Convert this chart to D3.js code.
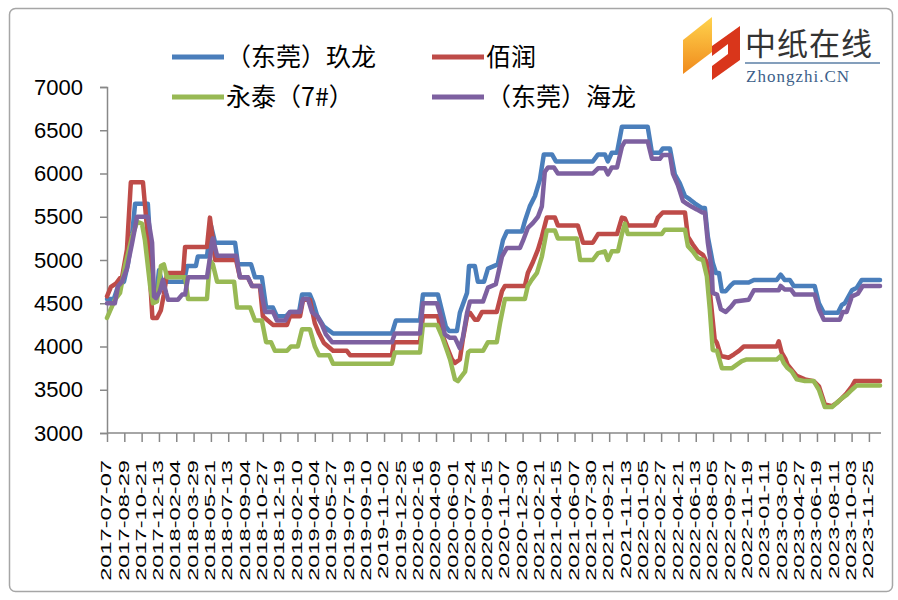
<!DOCTYPE html>
<html>
<head>
<meta charset="utf-8">
<script src="https://cdn.jsdelivr.net/npm/d3@7"></script>
<style>
  body { margin: 0; background: #fff; }
  svg { display: block; }
</style>
</head>
<body>
<div id="chart"></div>
<script>
// tick labels on the date axis (every 53 days)
const tickDates = ["2017-07-07","2017-08-29","2017-10-21","2017-12-13","2018-02-04","2018-03-29","2018-05-21","2018-07-13","2018-09-04","2018-10-27","2018-12-19","2019-02-10","2019-04-04","2019-05-27","2019-07-19","2019-09-10","2019-11-02","2019-12-25","2020-02-16","2020-04-09","2020-06-01","2020-07-24","2020-09-15","2020-11-07","2020-12-30","2021-02-21","2021-04-15","2021-06-07","2021-07-30","2021-09-21","2021-11-13","2022-01-05","2022-02-27","2022-04-21","2022-06-13","2022-08-05","2022-09-27","2022-11-19","2023-01-11","2023-03-05","2023-04-27","2023-06-19","2023-08-11","2023-10-03","2023-11-25"];
const yTicks = [3000, 3500, 4000, 4500, 5000, 5500, 6000, 6500, 7000];

// （东莞）玖龙
const jiulong = [["2017-07-07",4550],["2017-07-28",4550],["2017-08-10",4700],["2017-08-28",4750],["2017-09-09",4950],["2017-09-22",5300],["2017-10-01",5650],["2017-11-09",5650],["2017-11-25",4650],["2017-12-04",4550],["2017-12-13",4880],["2017-12-22",4750],["2018-02-28",4750],["2018-03-09",4930],["2018-04-05",4930],["2018-04-11",5040],["2018-05-09",5040],["2018-05-21",5400],["2018-06-03",5200],["2018-08-03",5200],["2018-08-12",4950],["2018-09-21",4950],["2018-10-03",4800],["2018-10-24",4800],["2018-11-06",4450],["2018-11-27",4450],["2018-12-09",4350],["2019-01-06",4350],["2019-01-18",4400],["2019-02-15",4400],["2019-02-24",4600],["2019-03-20",4600],["2019-03-29",4520],["2019-04-11",4360],["2019-05-02",4230],["2019-05-30",4150],["2019-11-26",4150],["2019-12-08",4300],["2020-02-20",4300],["2020-02-29",4600],["2020-04-15",4600],["2020-05-09",4230],["2020-05-19",4180],["2020-06-12",4180],["2020-06-21",4390],["2020-07-13",4620],["2020-07-19",4930],["2020-08-06",4930],["2020-08-15",4750],["2020-09-03",4750],["2020-09-15",4900],["2020-10-15",4950],["2020-10-31",5230],["2020-11-12",5330],["2020-12-28",5330],["2021-01-06",5450],["2021-01-21",5620],["2021-02-06",5740],["2021-02-21",5930],["2021-03-05",6220],["2021-03-30",6220],["2021-04-11",6140],["2021-08-02",6140],["2021-08-18",6220],["2021-09-08",6220],["2021-09-17",6140],["2021-09-29",6240],["2021-10-15",6240],["2021-10-30",6540],["2022-01-17",6540],["2022-01-30",6240],["2022-02-23",6240],["2022-03-04",6290],["2022-03-26",6290],["2022-04-10",5990],["2022-04-25",5890],["2022-05-11",5740],["2022-05-26",5700],["2022-06-10",5655],["2022-07-02",5600],["2022-07-11",5600],["2022-07-20",5270],["2022-08-04",4970],["2022-08-14",4850],["2022-08-23",4850],["2022-09-01",4640],["2022-09-13",4640],["2022-09-29",4710],["2022-10-08",4740],["2022-11-22",4740],["2022-12-08",4770],["2023-02-16",4770],["2023-02-28",4830],["2023-03-12",4770],["2023-03-28",4770],["2023-04-09",4700],["2023-06-12",4700],["2023-06-25",4500],["2023-07-10",4390],["2023-08-22",4390],["2023-09-03",4480],["2023-09-12",4500],["2023-10-04",4650],["2023-10-19",4680],["2023-11-03",4770],["2023-12-29",4770]];

// 佰润
const bairun = [["2017-07-07",4580],["2017-07-19",4690],["2017-08-04",4730],["2017-08-16",4790],["2017-08-22",4800],["2017-09-06",5120],["2017-09-18",5900],["2017-10-25",5900],["2017-11-06",5390],["2017-11-16",4770],["2017-11-23",4330],["2017-12-07",4330],["2017-12-19",4420],["2017-12-28",4600],["2018-01-07",4850],["2018-02-25",4850],["2018-03-03",5150],["2018-05-09",5150],["2018-05-18",5490],["2018-05-27",5230],["2018-06-03",5000],["2018-08-06",5000],["2018-08-18",4800],["2018-09-11",4800],["2018-09-24",4700],["2018-10-18",4700],["2018-10-27",4350],["2018-11-27",4250],["2019-01-09",4250],["2019-01-18",4350],["2019-02-18",4350],["2019-02-27",4540],["2019-03-20",4540],["2019-04-04",4270],["2019-04-17",4150],["2019-05-02",4040],["2019-05-30",3950],["2019-07-11",3950],["2019-07-21",3900],["2019-11-26",3900],["2019-12-02",4050],["2020-02-20",4050],["2020-02-29",4350],["2020-04-15",4350],["2020-04-27",4150],["2020-05-12",4000],["2020-05-28",3850],["2020-06-06",3810],["2020-06-21",3850],["2020-06-30",4080],["2020-07-13",4350],["2020-07-22",4390],["2020-08-06",4310],["2020-08-15",4310],["2020-08-28",4400],["2020-10-12",4400],["2020-10-28",4640],["2020-11-06",4700],["2021-01-06",4700],["2021-01-15",4850],["2021-01-31",4980],["2021-02-15",5120],["2021-02-27",5270],["2021-03-14",5490],["2021-04-08",5490],["2021-04-17",5400],["2021-06-17",5400],["2021-07-03",5200],["2021-08-02",5200],["2021-08-18",5300],["2021-10-15",5300],["2021-10-30",5490],["2021-11-08",5480],["2021-11-17",5400],["2022-02-08",5400],["2022-02-17",5490],["2022-03-04",5550],["2022-05-11",5550],["2022-05-20",5270],["2022-06-04",5180],["2022-06-19",5100],["2022-07-05",5060],["2022-07-17",4970],["2022-08-10",4080],["2022-08-17",4040],["2022-08-29",3890],["2022-09-22",3870],["2022-10-08",3910],["2022-10-23",3950],["2022-11-07",4000],["2023-02-16",4000],["2023-02-22",4060],["2023-03-03",3930],["2023-03-15",3850],["2023-03-21",3790],["2023-04-03",3730],["2023-04-18",3660],["2023-05-13",3620],["2023-06-09",3600],["2023-06-25",3540],["2023-07-13",3330],["2023-08-04",3310],["2023-08-19",3350],["2023-09-03",3400],["2023-09-18",3460],["2023-10-04",3540],["2023-10-13",3600],["2023-12-29",3600]];

// 永泰（7#）
const yongtai = [["2017-07-07",4330],["2017-07-22",4460],["2017-07-31",4540],["2017-08-16",4620],["2017-08-31",4930],["2017-09-22",5270],["2017-10-07",5440],["2017-10-22",5420],["2017-10-31",5230],["2017-11-16",4700],["2017-11-25",4500],["2017-12-07",4520],["2017-12-19",4930],["2017-12-28",4950],["2018-01-07",4800],["2018-03-03",4800],["2018-03-12",4550],["2018-05-09",4550],["2018-05-18",5000],["2018-05-27",4950],["2018-06-09",4750],["2018-07-31",4750],["2018-08-09",4450],["2018-09-18",4450],["2018-10-03",4300],["2018-10-24",4300],["2018-11-06",4050],["2018-11-21",4050],["2018-12-03",3950],["2019-01-09",3950],["2019-01-21",4000],["2019-02-11",4000],["2019-02-24",4200],["2019-03-20",4200],["2019-04-04",4000],["2019-04-17",3900],["2019-05-18",3900],["2019-05-30",3800],["2019-11-26",3800],["2019-12-05",3930],["2020-02-20",3930],["2020-02-29",4250],["2020-04-12",4250],["2020-04-27",4120],["2020-05-12",3960],["2020-05-22",3850],["2020-06-06",3620],["2020-06-15",3600],["2020-06-27",3660],["2020-07-07",3710],["2020-07-16",3930],["2020-07-22",3950],["2020-08-31",3950],["2020-09-15",4050],["2020-10-12",4050],["2020-10-22",4270],["2020-11-06",4550],["2021-01-06",4550],["2021-01-15",4700],["2021-01-27",4770],["2021-02-12",4850],["2021-02-27",5040],["2021-03-14",5340],["2021-04-08",5340],["2021-04-17",5250],["2021-06-14",5250],["2021-06-24",5000],["2021-08-02",5000],["2021-08-18",5080],["2021-09-08",5100],["2021-09-17",5000],["2021-09-29",5100],["2021-10-18",5100],["2021-10-30",5300],["2021-11-08",5420],["2021-11-17",5300],["2022-03-01",5300],["2022-03-10",5350],["2022-05-11",5350],["2022-05-20",5160],["2022-06-04",5100],["2022-06-19",5020],["2022-07-05",5000],["2022-07-17",4810],["2022-07-26",4430],["2022-08-04",3960],["2022-08-17",3950],["2022-09-01",3750],["2022-10-02",3750],["2022-10-17",3790],["2022-11-01",3830],["2022-11-16",3850],["2023-02-16",3850],["2023-02-28",3890],["2023-03-09",3810],["2023-03-21",3750],["2023-04-03",3710],["2023-04-18",3620],["2023-05-13",3600],["2023-06-09",3600],["2023-06-25",3500],["2023-07-13",3300],["2023-08-04",3300],["2023-08-19",3350],["2023-09-03",3400],["2023-09-18",3440],["2023-10-04",3500],["2023-10-19",3550],["2023-12-29",3550]];

// （东莞）海龙
const hailong = [["2017-07-07",4500],["2017-07-31",4500],["2017-08-10",4700],["2017-08-22",4750],["2017-09-06",4900],["2017-09-22",5200],["2017-10-07",5500],["2017-11-09",5500],["2017-11-22",5200],["2017-11-28",4580],["2017-12-04",4560],["2017-12-16",4640],["2017-12-25",4770],["2018-01-04",4620],["2018-01-10",4540],["2018-02-09",4540],["2018-02-22",4600],["2018-03-03",4600],["2018-03-12",4800],["2018-05-09",4800],["2018-05-27",5250],["2018-06-09",5050],["2018-08-06",5050],["2018-08-18",4800],["2018-09-11",4800],["2018-09-24",4700],["2018-10-18",4700],["2018-11-03",4400],["2018-11-27",4400],["2018-12-09",4300],["2019-01-03",4300],["2019-01-18",4400],["2019-02-18",4400],["2019-02-27",4550],["2019-03-14",4550],["2019-03-26",4400],["2019-04-11",4350],["2019-04-26",4250],["2019-05-08",4140],["2019-05-27",4050],["2019-11-26",4050],["2019-12-05",4150],["2020-02-20",4150],["2020-02-29",4500],["2020-04-12",4500],["2020-04-27",4310],["2020-05-06",4140],["2020-05-22",4100],["2020-06-06",4100],["2020-06-21",3980],["2020-06-30",4100],["2020-07-13",4390],["2020-07-22",4520],["2020-08-31",4520],["2020-09-15",4680],["2020-10-09",4720],["2020-10-28",5040],["2020-11-12",5140],["2020-12-22",5140],["2020-12-31",5220],["2021-01-15",5370],["2021-01-31",5430],["2021-02-15",5500],["2021-02-27",5620],["2021-03-08",6020],["2021-03-18",6070],["2021-04-05",6070],["2021-04-17",6000],["2021-08-02",6000],["2021-08-18",6060],["2021-09-08",6060],["2021-09-17",5990],["2021-09-29",6070],["2021-10-15",6070],["2021-10-30",6310],["2021-11-08",6370],["2022-01-17",6370],["2022-01-30",6170],["2022-02-23",6170],["2022-03-04",6215],["2022-03-26",6215],["2022-04-04",6000],["2022-04-19",5870],["2022-05-05",5680],["2022-05-17",5650],["2022-06-01",5615],["2022-06-16",5585],["2022-07-02",5550],["2022-07-11",5550],["2022-07-20",5200],["2022-08-01",4890],["2022-08-04",4620],["2022-08-17",4600],["2022-08-29",4430],["2022-09-13",4400],["2022-09-29",4460],["2022-10-11",4520],["2022-11-22",4540],["2022-12-08",4650],["2023-02-22",4650],["2023-02-28",4700],["2023-03-12",4660],["2023-03-31",4660],["2023-04-12",4600],["2023-06-12",4600],["2023-06-25",4430],["2023-07-10",4310],["2023-08-28",4310],["2023-09-06",4400],["2023-09-18",4400],["2023-10-04",4580],["2023-10-22",4610],["2023-11-06",4700],["2023-12-29",4700]];

const seriesNames = ["（东莞）玖龙", "佰润", "永泰（7#）", "（东莞）海龙"];
const seriesColors = ["#4a7ebb", "#be4b48", "#98b954", "#7d60a0"];
const seriesData = [jiulong, bairun, yongtai, hailong];

const W = 898, H = 600;
const parse = d3.timeParse("%Y-%m-%d");

const svg = d3.select("#chart").append("svg")
  .attr("width", W).attr("height", H);

svg.append("rect").attr("width", W).attr("height", H).attr("fill", "#fff");

// outer frame
svg.append("rect")
  .attr("x", 9.5).attr("y", 8.5).attr("width", 883).attr("height", 583)
  .attr("rx", 6).attr("fill", "none").attr("stroke", "#a6a6a6").attr("stroke-width", 1.5);

// scales
const x = d3.scaleTime()
  .domain([parse("2017-07-07"), parse("2024-01-01")])
  .range([107, 881]);
const y = d3.scaleLinear().domain([3000, 7000]).range([433, 87]);

// Y axis
const yAxis = svg.append("g")
  .attr("transform", "translate(107,0)")
  .call(d3.axisLeft(y).tickValues(yTicks).tickFormat(d3.format("d")).tickSize(7).tickPadding(17));
yAxis.select(".domain").attr("stroke", "#888").attr("stroke-width", 1.5);
yAxis.selectAll(".tick line").attr("stroke", "#888").attr("stroke-width", 1.5);
yAxis.selectAll(".tick text")
  .attr("font-family", "'Liberation Sans', Arial, sans-serif")
  .attr("font-size", 22).attr("fill", "#000");

// X axis
const xAxis = svg.append("g")
  .attr("transform", "translate(0,433)")
  .call(d3.axisBottom(x).tickValues(tickDates.map(parse)).tickSize(9).tickFormat(""));
xAxis.select(".domain").attr("stroke", "#888").attr("stroke-width", 1.5)
  .attr("d", "M107,0H881");
xAxis.selectAll(".tick line").attr("stroke", "#888").attr("stroke-width", 1.5);

svg.append("g").selectAll("text")
  .data(tickDates)
  .enter().append("text")
  .attr("transform", d => "translate(" + (x(parse(d)) - 1) + ",460) rotate(-90) scale(1.63,1)")
  .attr("text-anchor", "end")
  .attr("dy", "0.36em")
  .attr("font-family", "'Liberation Sans', Arial, sans-serif")
  .attr("font-size", 14.5)
  .attr("fill", "#000")
  .text(d => d);

// lines
const line = d3.line()
  .x(d => x(parse(d[0])))
  .y(d => y(d[1]));

seriesData.forEach(function(s, i) {
  svg.append("path")
    .datum(s)
    .attr("d", line)
    .attr("fill", "none")
    .attr("stroke", seriesColors[i])
    .attr("stroke-width", 4.5)
    .attr("stroke-linejoin", "round")
    .attr("stroke-linecap", "round");
});

// legend
const legendPos = [[172, 57], [432, 57], [172, 97], [432, 97]];
const legend = svg.append("g");
seriesNames.forEach(function(name, i) {
  const p = legendPos[i];
  legend.append("line")
    .attr("x1", p[0]).attr("x2", p[0] + 52)
    .attr("y1", p[1]).attr("y2", p[1])
    .attr("stroke", seriesColors[i]).attr("stroke-width", 5);
  legend.append("text")
    .attr("x", p[0] + 54).attr("y", p[1])
    .attr("dy", "0.36em")
    .attr("font-family", "'Noto Sans CJK SC', sans-serif")
    .attr("font-size", 25)
    .attr("fill", "#000")
    .text(name);
});

// logo
const logo = svg.append("g");
const grad = svg.append("defs").append("linearGradient")
  .attr("id", "lg").attr("x1", 0).attr("y1", 0).attr("x2", 0).attr("y2", 1);
grad.append("stop").attr("offset", "0%").attr("stop-color", "#ffd34d");
grad.append("stop").attr("offset", "100%").attr("stop-color", "#f08a1c");
logo.append("polygon")
  .attr("points", "683,40 712,17 712,52 683,74")
  .attr("fill", "url(#lg)");
logo.append("polygon")
  .attr("points", "712,46 740,26 740,60 712,80 712,66 728,54 728,44 712,56")
  .attr("fill", "#d9361b");
logo.append("text")
  .attr("x", 745).attr("y", 55)
  .attr("font-family", "'Noto Sans CJK SC', sans-serif")
  .attr("font-size", 31).attr("fill", "#333")
  .attr("letter-spacing", 1)
  .text("中纸在线");
logo.append("line")
  .attr("x1", 745).attr("x2", 880).attr("y1", 63).attr("y2", 63)
  .attr("stroke", "#5b7fa6").attr("stroke-width", 1.5);
logo.append("text")
  .attr("x", 746).attr("y", 82)
  .attr("font-family", "'Liberation Serif', serif")
  .attr("font-size", 17).attr("fill", "#3d5f8a")
  .attr("letter-spacing", 1)
  .text("Zhongzhi.CN");
</script>
</body>
</html>
